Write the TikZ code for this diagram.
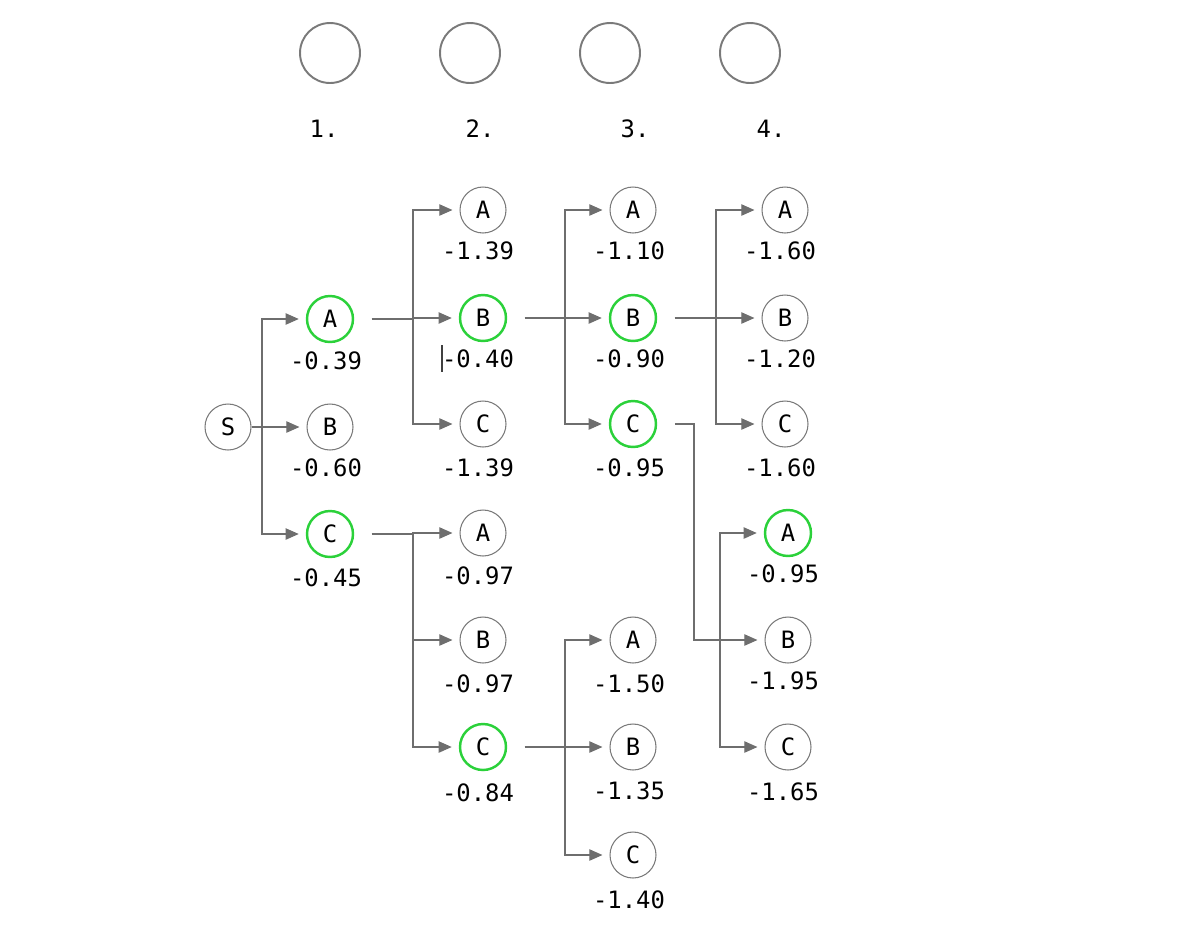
\documentclass[tikz,border=0pt]{standalone}
\usepackage{fontspec}
\setmonofont{DejaVu Sans Mono}
\usetikzlibrary{arrows.meta}

\definecolor{ringgray}{HTML}{7A7A7A}
\definecolor{pickgreen}{HTML}{2BD13A}
\definecolor{wiregray}{HTML}{6E6E6E}

\begin{document}
\begin{tikzpicture}[x=0.02cm, y=-0.02cm,
    font=\ttfamily\fontsize{13.6}{15}\selectfont,
    state/.style={circle, draw=ringgray, line width=0.6pt, minimum size=0.92cm, inner sep=0pt},
    picked/.style={state, draw=pickgreen, line width=1.4pt},
    slot/.style={circle, draw=ringgray, line width=1.1pt, minimum size=1.2cm, inner sep=0pt},
    score/.style={anchor=base, inner sep=0pt},
    wire/.style={draw=wiregray, line width=0.7pt, -{Triangle[length=7.5pt,width=6.5pt]}, shorten >=4pt, shorten <=10pt}]
    \useasboundingbox (0,0) rectangle (1192,934);

    % empty slots
    \node (slot1) [slot] at (330,53) {};
    \node (slot2) [slot] at (470,53) {};
    \node (slot3) [slot] at (610,53) {};
    \node (slot4) [slot] at (750,53) {};
    \node (num1) [score] at (324,137) {1.};
    \node (num2) [score] at (480,137) {2.};
    \node (num3) [score] at (635,137) {3.};
    \node (num4) [score] at (771,137) {4.};

    % start
    \node (s) [state] at (228,427) {S};

    % step 1
    \node (a) [picked] at (330,319) {A};
    \node (b) [state] at (330,427) {B};
    \node (c) [picked] at (330,534) {C};
    \node (a-v) [score] at (326,369) {-0.39};
    \node (b-v) [score] at (326,476) {-0.60};
    \node (c-v) [score] at (326,586) {-0.45};

    % step 2
    \node (aa) [state] at (483,210) {A};
    \node (ab) [picked] at (483,318) {B};
    \node (ac) [state] at (483,424) {C};
    \node (ca) [state] at (483,533) {A};
    \node (cb) [state] at (483,640) {B};
    \node (cc) [picked] at (483,747) {C};
    \node (aa-v) [score] at (478,259) {-1.39};
    \node (ab-v) [score] at (478,367) {-0.40};
    \node (ac-v) [score] at (478,476) {-1.39};
    \node (ca-v) [score] at (478,584) {-0.97};
    \node (cb-v) [score] at (478,692) {-0.97};
    \node (cc-v) [score] at (478,801) {-0.84};

    % step 3
    \node (aba) [state] at (633,210) {A};
    \node (abb) [picked] at (633,318) {B};
    \node (abc) [picked] at (633,424) {C};
    \node (cca) [state] at (633,640) {A};
    \node (ccb) [state] at (633,747) {B};
    \node (ccc) [state] at (633,855) {C};
    \node (aba-v) [score] at (629,259) {-1.10};
    \node (abb-v) [score] at (629,367) {-0.90};
    \node (abc-v) [score] at (629,476) {-0.95};
    \node (cca-v) [score] at (629,692) {-1.50};
    \node (ccb-v) [score] at (629,799) {-1.35};
    \node (ccc-v) [score] at (629,908) {-1.40};

    % step 4
    \node (abba) [state] at (785,210) {A};
    \node (abbb) [state] at (785,318) {B};
    \node (abbc) [state] at (785,424) {C};
    \node (abca) [picked] at (788,533) {A};
    \node (abcb) [state] at (788,640) {B};
    \node (abcc) [state] at (788,747) {C};
    \node (abba-v) [score] at (780,259) {-1.60};
    \node (abbb-v) [score] at (780,367) {-1.20};
    \node (abbc-v) [score] at (780,476) {-1.60};
    \node (abca-v) [score] at (783,582) {-0.95};
    \node (abcb-v) [score] at (783,689) {-1.95};
    \node (abcc-v) [score] at (783,800) {-1.65};

    % branch points
    \coordinate (js) at (262,427);
    \coordinate (ja) at (413,319);
    \coordinate (jc) at (413,534);
    \coordinate (jab) at (565,318);
    \coordinate (jcc) at (565,747);
    \coordinate (jabb) at (716,318);
    \coordinate (jabc) at (694,424);
    \coordinate (jk) at (720,640);

    \draw[wire, shorten <=0pt] (s.east) -- (js) |- (a);
    \draw[wire, shorten <=0pt] (s.east) -- (js) |- (b);
    \draw[wire, shorten <=0pt] (s.east) -- (js) |- (c);

    \draw[wire] (a.east) -- (ja) |- (aa);
    \draw[wire] (a.east) -- (ja) |- (ab);
    \draw[wire] (a.east) -- (ja) |- (ac);
    \draw[wire] (c.east) -- (jc) |- (ca);
    \draw[wire] (c.east) -- (jc) |- (cb);
    \draw[wire] (c.east) -- (jc) |- (cc);

    \draw[wire] (ab.east) -- (jab) |- (aba);
    \draw[wire] (ab.east) -- (jab) |- (abb);
    \draw[wire] (ab.east) -- (jab) |- (abc);
    \draw[wire] (cc.east) -- (jcc) |- (cca);
    \draw[wire] (cc.east) -- (jcc) |- (ccb);
    \draw[wire] (cc.east) -- (jcc) |- (ccc);

    \draw[wire] (abb.east) -- (jabb) |- (abba);
    \draw[wire] (abb.east) -- (jabb) |- (abbb);
    \draw[wire] (abb.east) -- (jabb) |- (abbc);
    \draw[wire] (abc.east) -- (jabc) |- (abcb);
    \draw[wire, shorten <=0pt] (jk) |- (abca);
    \draw[wire, shorten <=0pt] (jk) |- (abcc);

    % caret
    \draw[line width=0.6pt, black!75] (442,345) -- (442,372);
\end{tikzpicture}
\end{document}
